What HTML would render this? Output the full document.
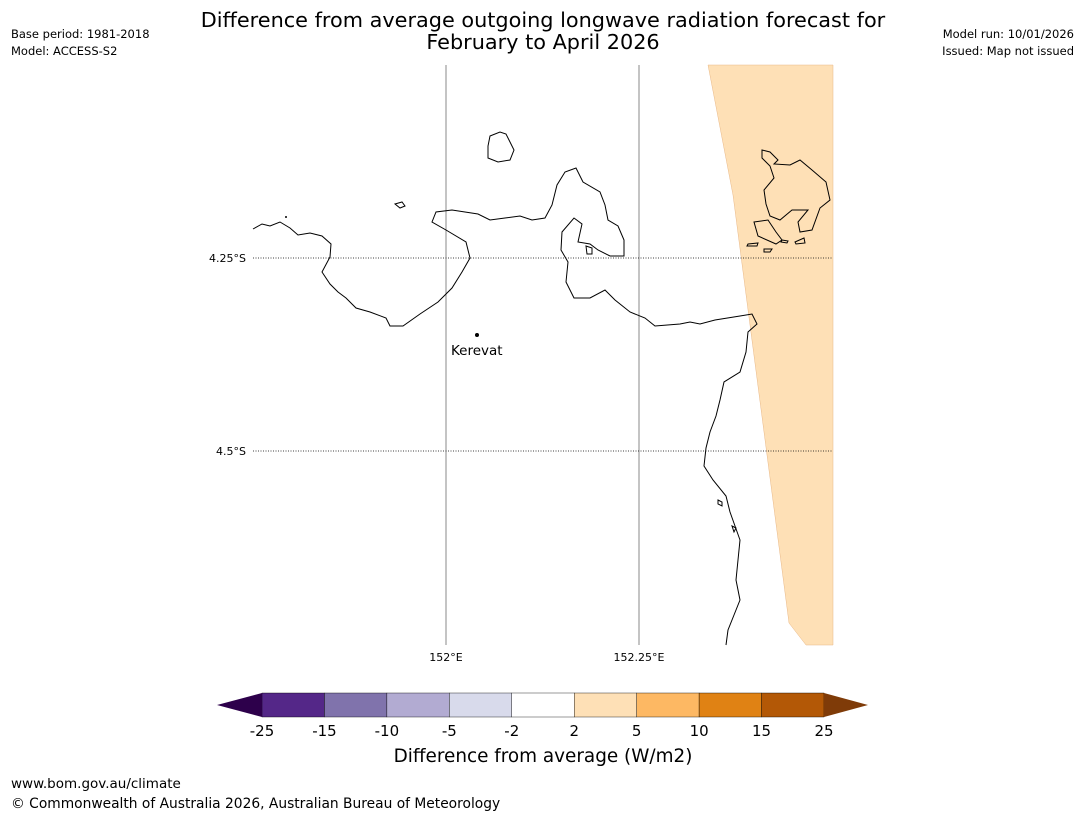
<!DOCTYPE html>
<html><head><meta charset="utf-8"><style>
body{margin:0;background:#fff;font-family:"Liberation Sans","DejaVu Sans",sans-serif}
svg text{font-family:"DejaVu Sans","Liberation Sans",sans-serif}
</style></head><body>
<svg width="1085" height="816" xmlns="http://www.w3.org/2000/svg">
<text x="543" y="27" font-size="20.8" text-anchor="middle">Difference from average outgoing longwave radiation forecast for</text>
<text x="543" y="49" font-size="20.8" text-anchor="middle">February to April 2026</text>
<text x="11" y="38" font-size="11.5">Base period: 1981-2018</text>
<text x="11" y="55" font-size="11.5">Model: ACCESS-S2</text>
<text x="1074" y="38" font-size="11.5" text-anchor="end">Model run: 10/01/2026</text>
<text x="1074" y="55" font-size="11.5" text-anchor="end">Issued: Map not issued</text>
<g>
<polygon points="708,65 833,65 833,645 806,645 789,623 733,195" fill="#fee0b6" stroke="#e8b888" stroke-width="0.5"/>
<line x1="446" y1="65" x2="446" y2="645" stroke="#888"/>
<line x1="639" y1="65" x2="639" y2="645" stroke="#888"/>
<line x1="253" y1="258" x2="833" y2="258" stroke="#000" stroke-dasharray="1,1.5" stroke-width="0.8"/>
<line x1="253" y1="451" x2="833" y2="451" stroke="#000" stroke-dasharray="1,1.5" stroke-width="0.8"/>
<g fill="none" stroke="#000" stroke-width="1">
<polyline points="253,229 262,224 270,226 280,222 290,228 298,235 310,233 322,236 331,244 330,257 322,272 330,284 338,292 346,298 356,308 370,312 386,318 390,326 403,326 420,314 438,302 452,288 462,272 470,258 466,242 446,230 432,222 436,212 452,210 478,214 490,220 505,218 520,216 532,220 545,218 552,205 557,185 565,172 576,168 583,182 600,192 605,205 608,220 618,226 624,240 624,256 610,256 598,250 590,244 578,242 582,224 574,218 562,232 561,250 568,262 566,282 574,298 590,298 605,290 615,300 630,312 645,318 655,326 680,324 690,322 700,324 715,320 740,316 752,314 757,324 748,332 746,352 740,372 724,382 720,400 716,416 710,432 706,448 704,466 713,480 726,496 730,512 740,540 738,560 736,580 740,600 734,615 728,630 726,645"/>
<path d="M490,136 L500,132 506,134 510,142 514,150 510,160 498,162 488,158 488,146 Z"/>
<path d="M395,204 L402,202 405,206 400,208 Z"/>
<path d="M586,246 L592,248 592,254 587,254 Z"/>
<path d="M762,150 L770,152 778,160 774,164 790,165 800,160 812,170 826,182 830,200 820,208 812,230 800,232 798,222 808,210 792,210 780,220 770,216 766,204 764,190 774,178 770,166 762,158 Z"/>
<path d="M754,222 L768,220 776,232 782,240 776,244 758,236 Z"/>
<path d="M748,244 L758,243 757,246 747,246 Z"/>
<path d="M764,249 L772,249 770,252 764,252 Z"/>
<path d="M782,240 L788,241 787,243 781,242 Z"/>
<path d="M795,242 L804,238 805,243 796,244 Z"/>
<path d="M718,500 L722,502 722,506 718,504 Z"/>
<path d="M732,526 L736,528 734,532 Z"/>
</g>
<circle cx="286" cy="217" r="1" fill="#000"/>
<circle cx="477" cy="335" r="2" fill="#000"/>
<text x="451" y="355" font-size="13.5">Kerevat</text>
<text x="246" y="262" font-size="11" text-anchor="end">4.25°S</text>
<text x="246" y="455" font-size="11" text-anchor="end">4.5°S</text>
<text x="446" y="661" font-size="11" text-anchor="middle">152°E</text>
<text x="639" y="661" font-size="11" text-anchor="middle">152.25°E</text>
</g>
<g id="cbar"></g>
<text x="543" y="762" font-size="18.4" text-anchor="middle">Difference from average (W/m2)</text>
<text x="11" y="788" font-size="13.5">www.bom.gov.au/climate</text>
<text x="11" y="808" font-size="13.8">© Commonwealth of Australia 2026, Australian Bureau of Meteorology</text>
</svg>
<script>
const levels = [-25,-15,-10,-5,-2,2,5,10,15,25];
const colors = ["#542788","#8073ac","#b2abd2","#d8daeb","#ffffff","#fee0b6","#fdb863","#e08214","#b35806"];
const extendColors = ["#2d004b","#7f3b08"];
const g = document.getElementById('cbar');
const NS = "http://www.w3.org/2000/svg";
const x0 = 262, x1 = 824, y0 = 693, h = 24;
const step = (x1 - x0) / (levels.length - 1);
const xi = i => x0 + i * step;
for (let i = 0; i < colors.length; i++) {
  const r = document.createElementNS(NS, 'rect');
  r.setAttribute('x', xi(i)); r.setAttribute('y', y0);
  r.setAttribute('width', step); r.setAttribute('height', h);
  r.setAttribute('fill', colors[i]); r.setAttribute('stroke', '#000'); r.setAttribute('stroke-width', '0.4');
  
  
  g.appendChild(r);
}
const lt = document.createElementNS(NS, 'polygon');
lt.setAttribute('points', `${x0},${y0} ${x0},${y0+h} ${x0-45},${y0+h/2}`);
lt.setAttribute('fill', extendColors[0]);


g.appendChild(lt);
const rt = document.createElementNS(NS, 'polygon');
rt.setAttribute('points', `${x1},${y0} ${x1},${y0+h} ${x1+44},${y0+h/2}`);
rt.setAttribute('fill', extendColors[1]);


g.appendChild(rt);
levels.forEach((v, i) => {
  const t = document.createElementNS(NS, 'text');
  t.setAttribute('x', xi(i)); t.setAttribute('y', 736);
  t.setAttribute('font-size', '15'); t.setAttribute('text-anchor', 'middle');
  t.textContent = v;
  
  
  g.appendChild(t);
});
</script>
</body></html>
